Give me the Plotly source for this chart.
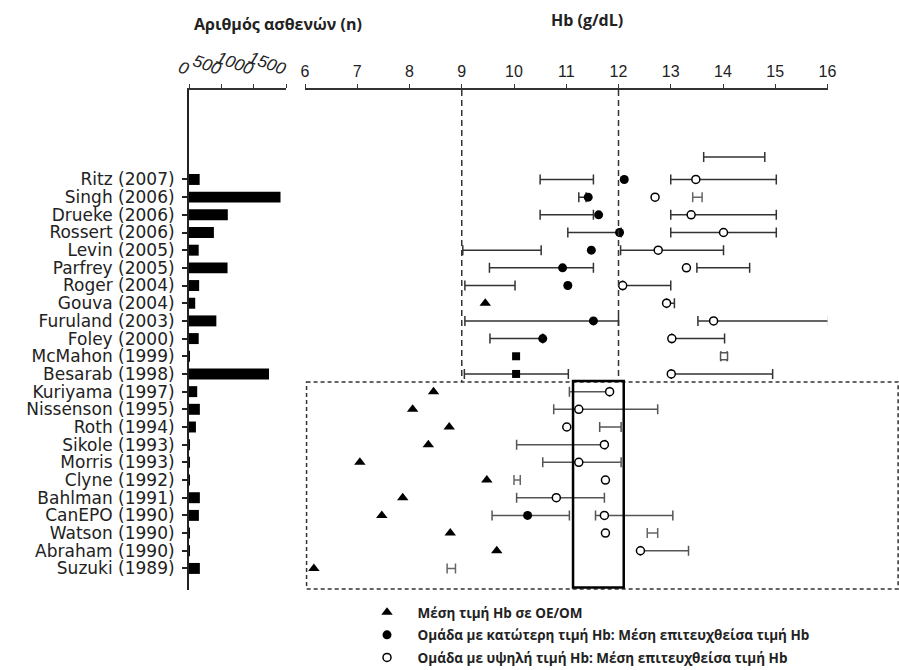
import plotly.graph_objects as go

# ---------------- data ----------------
studies = ["Ritz (2007)", "Singh (2006)", "Drueke (2006)", "Rossert (2006)", "Levin (2005)",
           "Parfrey (2005)", "Roger (2004)", "Gouva (2004)", "Furuland (2003)", "Foley (2000)",
           "McMahon (1999)", "Besarab (1998)", "Kuriyama (1997)", "Nissenson (1995)", "Roth (1994)",
           "Sikole (1993)", "Morris (1993)", "Clyne (1992)", "Bahlman (1991)", "CanEPO (1990)",
           "Watson (1990)", "Abraham (1990)", "Suzuki (1989)"]

n_patients = [165, 1415, 600, 385, 150, 596, 157, 96, 423, 150, 10, 1237,
              127, 168, 107, 10, 10, 10, 168, 153, 10, 10, 168]

# mean Hb at baseline (triangles)
tri_hb = [None, None, None, None, None, None, None, 9.45, None, None, None, None,
          8.46, 8.06, 8.76, 8.36, 7.05, 9.48, 7.87, 7.47, 8.78, 9.67, 6.17]

# low-Hb group: achieved mean (filled) and range
low_mean = [12.11, 11.42, 11.62, 12.02, 11.48, 10.93, 11.03, None, 11.52, 10.55, None, None,
            None, None, None, None, None, None, None, 10.26, None, None, None]
low_square = [None] * 10 + [10.04, 10.04] + [None] * 11
low_lo = [10.50, 11.24, 10.50, 11.03, 9.02, 9.53, 9.06, None, 9.06, 9.54, None, 9.05,
          None, None, None, None, None, None, None, 9.58, None, None, None]
low_hi = [11.52, 11.38, 11.52, 12.05, 10.52, 11.52, 10.02, None, 12.00, 10.55, None, 11.04,
          None, None, None, None, None, None, None, 11.06, None, None, None]

# high-Hb group: achieved mean (open) and range
high_mean = [13.48, 12.70, 13.39, 14.01, 12.76, 13.30, 12.08, 12.92, 13.82, 13.02, None, 13.01,
             11.83, 11.24, 11.01, 11.73, 11.24, 11.75, 10.81, 11.73, 11.75, 12.42, None]
high_square = [None] * 10 + [14.02] + [None] * 12
high_lo = [13.00, None, 13.00, 13.00, 12.04, 13.50, 12.08, 12.92, 13.52, 13.02, 13.96, 13.01,
           11.06, 10.76, 11.64, 10.05, 10.55, None, 10.05, 11.56, None, 12.42, None]
high_hi = [15.02, None, 15.02, 15.02, 14.01, 14.51, 13.00, 13.07, 16.02, 14.03, 14.08, 14.95,
           11.83, 12.75, 12.05, 11.75, 12.05, None, 11.73, 13.04, None, 13.34, None]

# other narrow target ranges
other_lo = [None, 13.42] + [None] * 15 + [10.00, None, None, 12.55, None, 8.72]
other_hi = [None, 13.60] + [None] * 15 + [10.12, None, None, 12.75, None, 8.88]

# unlabelled range above Ritz
top_lo, top_hi = 13.63, 14.80
TOP_ROW = -1.27

hb_ticks = [6, 7, 8, 9, 10, 11, 12, 13, 14, 15, 16]
n_ticks = [0, 500, 1000, 1500]

rows = list(range(len(studies)))

# ---------------- layout geometry ----------------
W, H = 899, 670
bar_dom = [189 / W, 286 / W]
hb_dom = [305 / W, 827.5 / W]
y_dom = [1 - 590 / H, 1 - 90 / H]
y_range = [23.22, -5.06]
BOX_TOP = 11.45
BOX_BOT = 23.16

fig = go.Figure()

# patient count bars
fig.add_trace(go.Bar(x=n_patients, y=rows, orientation="h", marker_color="black",
                     width=0.62, xaxis="x", yaxis="y", showlegend=False))


def interval_trace(rs, los, his, color):
    xs, ys, err = [], [], []
    for r, lo, hi in zip(rs, los, his):
        if lo is None or hi is None:
            continue
        xs.append((lo + hi) / 2)
        ys.append(r)
        err.append((hi - lo) / 2)
    return go.Scatter(x=xs, y=ys, mode="markers", xaxis="x2", yaxis="y",
                      marker=dict(size=1, color="rgba(0,0,0,0)"),
                      error_x=dict(type="data", array=err, symmetric=True, color=color,
                                   thickness=1.5, width=5),
                      showlegend=False, hoverinfo="skip", cliponaxis=False)


upper = [r for r in rows if r <= 11]
lower = [r for r in rows if r > 11]
for group, col in ((upper, "#333333"), (lower, "#555555")):
    fig.add_trace(interval_trace(group, [low_lo[r] for r in group], [low_hi[r] for r in group], col))
    fig.add_trace(interval_trace(group, [high_lo[r] for r in group], [high_hi[r] for r in group], col))
    fig.add_trace(interval_trace(group, [other_lo[r] for r in group], [other_hi[r] for r in group], "#666666"))
fig.add_trace(interval_trace([TOP_ROW], [top_lo], [top_hi], "#333333"))


def pts(vals):
    xs = [v for v in vals if v is not None]
    ys = [r for r, v in zip(rows, vals) if v is not None]
    return xs, ys


NB = "\u00a0\u00a0\u00a0"
x, y = pts(tri_hb)
fig.add_trace(go.Scatter(x=x, y=y, mode="markers", xaxis="x2", yaxis="y",
                         marker=dict(symbol="triangle-up", size=10, color="black"),
                         name=NB + "<b>Μέση τιμή Hb σε ΟΕ/ΟΜ</b>", legendgroup="a", cliponaxis=False))
x, y = pts(low_mean)
fig.add_trace(go.Scatter(x=x, y=y, mode="markers", xaxis="x2", yaxis="y",
                         marker=dict(symbol="circle", size=9, color="black"),
                         name=NB + "<b>Ομάδα με κατώτερη τιμή Hb: Μέση επιτευχθείσα τιμή Hb</b>",
                         legendgroup="b", cliponaxis=False))
x, y = pts(high_mean)
fig.add_trace(go.Scatter(x=x, y=y, mode="markers", xaxis="x2", yaxis="y",
                         marker=dict(symbol="circle", size=8, color="white",
                                     line=dict(color="black", width=1.5)),
                         name=NB + "<b>Ομάδα με υψηλή τιμή Hb: Μέση επιτευχθείσα τιμή Hb</b>",
                         legendgroup="c", cliponaxis=False))
x, y = pts(low_square)
fig.add_trace(go.Scatter(x=x, y=y, mode="markers", xaxis="x2", yaxis="y",
                         marker=dict(symbol="square", size=8, color="black"),
                         showlegend=False, cliponaxis=False))
x, y = pts(high_square)
fig.add_trace(go.Scatter(x=x, y=y, mode="markers", xaxis="x2", yaxis="y",
                         marker=dict(symbol="square", size=7, color="white",
                                     line=dict(color="#555", width=1.5)),
                         showlegend=False, cliponaxis=False))

# reference lines and boxes
shapes = []
for v in (9, 12):
    shapes.append(dict(type="line", xref="x2", yref="y", x0=v, x1=v, y0=y_range[1], y1=BOX_TOP,
                       line=dict(color="#333", width=1.5, dash="6px,4px")))
hb_left_paper = hb_dom[0] + (6.03 - 6) / 10 * (hb_dom[1] - hb_dom[0])
shapes.append(dict(type="rect", xref="paper", yref="y", x0=hb_left_paper, x1=0.999,
                   y0=BOX_TOP, y1=BOX_BOT, line=dict(color="#333", width=1.5, dash="4px,3px")))
shapes.append(dict(type="rect", xref="x2", yref="y", x0=11.13, x1=12.10, y0=BOX_TOP - 0.05,
                   y1=BOX_BOT - 0.08, line=dict(color="black", width=2.5)))

fig.update_layout(
    template="none",
    width=W, height=H, margin=dict(l=0, r=0, t=0, b=0, autoexpand=False),
    paper_bgcolor="white", plot_bgcolor="rgba(0,0,0,0)",
    bargap=0.3, shapes=shapes,
    xaxis=dict(domain=bar_dom, range=[0, 1500], side="top", anchor="y", automargin=False,
               showline=True, linecolor="#333", linewidth=1.5, showgrid=False, zeroline=False,
               tickmode="array", tickvals=n_ticks, ticktext=["<i>%d</i>" % t for t in n_ticks],
               ticks="outside", ticklen=4, tickcolor="#333", tickangle=20, ticklabelstandoff=2,
               tickfont=dict(family="Liberation Sans, Arial", size=17, color="#222")),
    xaxis2=dict(domain=hb_dom, range=[6, 16], side="top", anchor="y", automargin=False,
                showline=True, linecolor="#333", linewidth=1.5, showgrid=False, zeroline=False,
                tickmode="array", tickvals=hb_ticks, ticks="outside", ticklen=4, tickcolor="#333",
                ticklabelstandoff=1,
                tickfont=dict(family="Liberation Sans, Arial", size=16, color="#222")),
    yaxis=dict(domain=y_dom, range=y_range, anchor="x", automargin=False, showline=True,
               linecolor="#222", linewidth=2, showgrid=False, zeroline=False,
               tickmode="array", tickvals=rows, ticktext=studies, ticks="outside", ticklen=5,
               tickcolor="#222", tickwidth=2, ticklabelstandoff=4,
               tickfont=dict(family="DejaVu Sans", size=17, color="#222")),
    legend=dict(x=367 / W, y=1 - 597 / H, xanchor="left", yanchor="top",
                font=dict(family="Open Sans", size=13.5, color="#222"),
                traceorder="grouped", tracegroupgap=2, bgcolor="rgba(0,0,0,0)"),
    annotations=[
        dict(text="<b>Αριθμός ασθενών (n)</b>", xref="paper", yref="paper", x=278 / W,
             y=1 - 24 / H, xanchor="center", yanchor="middle", showarrow=False,
             font=dict(family="Open Sans", size=16, color="#222")),
        dict(text="<b>Hb (g/dL)</b>", xref="paper", yref="paper", x=587 / W, y=1 - 20 / H,
             xanchor="center", yanchor="middle", showarrow=False,
             font=dict(family="Open Sans", size=16, color="#222")),
    ],
)

fig.write_html("out.html", config={"displayModeBar": False},
               post_script="document.body.style.margin='0px';")
